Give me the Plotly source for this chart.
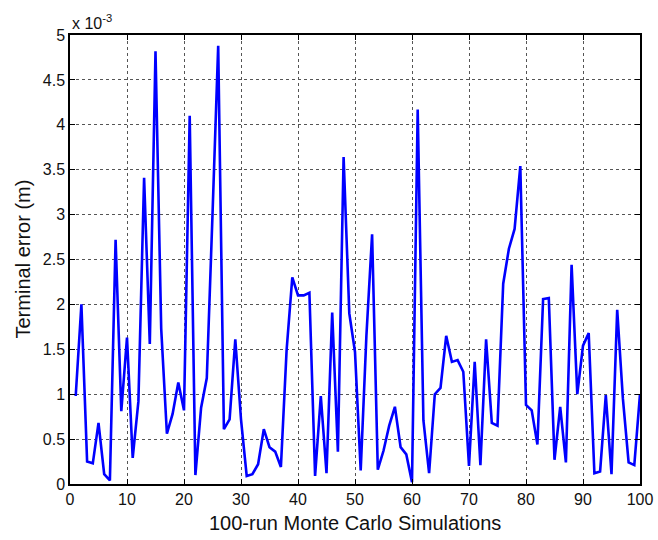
import plotly.graph_objects as go

# Terminal error of each Monte Carlo run, in units of 1e-3 m
runs = list(range(1, 101))
terminal_error = [
    0.98, 2.00, 0.25, 0.23, 0.68, 0.11, 0.04, 2.72, 0.81, 1.63,
    0.29, 0.92, 3.41, 1.56, 4.82, 1.73, 0.56, 0.78, 1.13, 0.82,
    4.10, 0.10, 0.85, 1.18, 3.00, 4.88, 0.61, 0.72, 1.61, 0.72,
    0.09, 0.11, 0.22, 0.61, 0.41, 0.36, 0.19, 1.49, 2.30, 2.10,
    2.10, 2.13, 0.09, 0.98, 0.12, 1.91, 0.36, 3.64, 1.90, 1.47,
    0.15, 1.65, 2.78, 0.16, 0.37, 0.65, 0.86, 0.41, 0.33, 0.02,
    4.17, 0.71, 0.12, 1.00, 1.07, 1.65, 1.36, 1.38, 1.25, 0.20,
    1.36, 0.21, 1.61, 0.68, 0.65, 2.23, 2.62, 2.84, 3.54, 0.88,
    0.82, 0.44, 2.06, 2.07, 0.27, 0.86, 0.24, 2.44, 1.00, 1.54,
    1.68, 0.12, 0.14, 0.99, 0.11, 1.94, 0.95, 0.24, 0.21, 1.00,
]

x_ticks = list(range(0, 101, 10))
y_ticks = [i * 0.5 for i in range(11)]
y_tick_labels = ["0", "0.5", "1", "1.5", "2", "2.5", "3", "3.5", "4", "4.5", "5"]

x_title = "100-run Monte Carlo Simulations"
y_title = "Terminal error (m)"
exponent_label = "x 10<sup>-3</sup>"

font_family = "Arial, Liberation Sans, sans-serif"
text_color = "#111111"

fig = go.Figure(
    go.Scatter(
        x=runs,
        y=terminal_error,
        mode="lines",
        line=dict(color="#0000FF", width=2.6),
        hoverinfo="x+y",
    )
)

axis_common = dict(
    automargin=False,
    showline=True,
    linecolor="#000000",
    linewidth=1.5,
    mirror="ticks",
    ticks="inside",
    ticklen=5,
    tickwidth=1,
    tickcolor="#000000",
    showgrid=True,
    gridcolor="#555555",
    gridwidth=1,
    griddash="dot",
    zeroline=False,
    tickfont=dict(family=font_family, size=16, color=text_color),
)

fig.update_xaxes(range=[0, 100], tickvals=x_ticks, **axis_common)
fig.update_yaxes(range=[0, 5], tickvals=y_ticks, ticktext=y_tick_labels, **axis_common)

# Axis titles and the shared exponent of the y values
fig.add_annotation(
    text=x_title, xref="paper", yref="paper", x=0.5, y=0,
    xanchor="center", yanchor="middle", yshift=-39, showarrow=False,
    font=dict(family=font_family, size=20, color=text_color),
)
fig.add_annotation(
    text=y_title, xref="paper", yref="paper", x=0, y=0.5,
    xanchor="center", yanchor="middle", xshift=-48, textangle=-90, showarrow=False,
    font=dict(family=font_family, size=20, color=text_color),
)
fig.add_annotation(
    text=exponent_label, xref="paper", yref="paper", x=0.0, y=1.0,
    xanchor="left", yanchor="bottom", yshift=1, showarrow=False,
    font=dict(family=font_family, size=16, color=text_color),
)

fig.update_layout(
    width=658,
    height=540,
    margin=dict(l=70, r=18, t=35, b=56),
    paper_bgcolor="#ffffff",
    plot_bgcolor="#ffffff",
    showlegend=False,
)

fig.write_html("out.html")
